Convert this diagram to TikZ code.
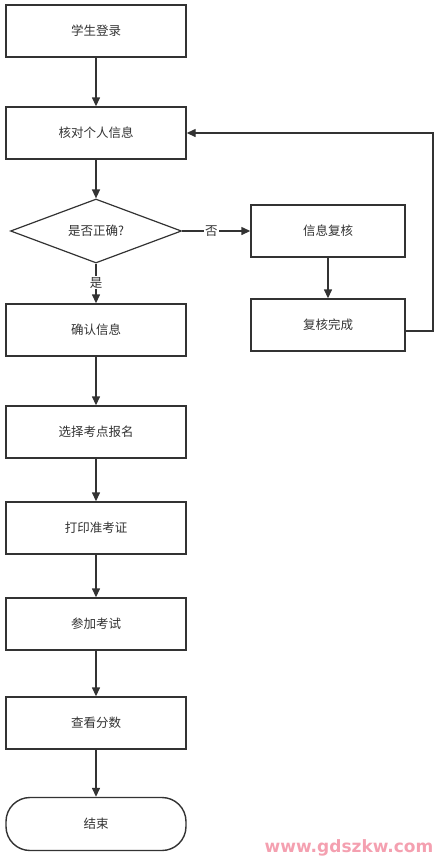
\documentclass[tikz,border=0pt]{standalone}
\usepackage{fontspec}
\newfontfamily\cjk{Noto Sans CJK SC}
\newfontfamily\wm{DejaVu Sans}
\usetikzlibrary{shapes.geometric,arrows.meta}
\definecolor{ln}{HTML}{333333}
\definecolor{tx}{HTML}{333333}
\definecolor{pk}{HTML}{F4A0B0}
\begin{document}
\begin{tikzpicture}[x=1pt,y=-1pt,
  every node/.style={font=\cjk\fontsize{12.5}{14}\selectfont,text=tx},
  box/.style={draw=ln,line width=1.4pt,minimum width=180pt,minimum height=52pt,inner sep=0pt},
  sbox/.style={draw=ln,line width=1.4pt,minimum width=154pt,minimum height=52pt,inner sep=0pt},
  dia/.style={draw=ln,line width=1.2pt,diamond,aspect=2.67,minimum width=171pt,minimum height=64pt,inner sep=0pt},
  term/.style={draw=ln,line width=1.4pt,rounded corners=24pt,minimum width=180pt,minimum height=53pt,inner sep=0pt},
  arr/.style={draw=ln,line width=1.4pt,-{Triangle[length=9pt,width=8pt]}},
  lbl/.style={fill=white,inner sep=1pt}]
\useasboundingbox (0,0) rectangle (439,860);
\node[box] (a) at (96,31) {学生登录};
\node[box] (b) at (96,133) {核对个人信息};
\node[dia] (c) at (96,231) {是否正确?};
\node[sbox] (r1) at (328,231) {信息复核};
\node[sbox] (r2) at (328,325) {复核完成};
\node[box] (d) at (96,330) {确认信息};
\node[box] (e) at (96,432) {选择考点报名};
\node[box] (f) at (96,528) {打印准考证};
\node[box] (g) at (96,624) {参加考试};
\node[box] (h) at (96,723) {查看分数};
\node[term] (i) at (96,824) {结束};
\coordinate (k1) at (433,331);
\coordinate (k2) at (433,133);
\draw[arr] (a) -- (b);
\draw[arr] (b) -- (c);
\draw[arr] (c) -- node[lbl,pos=0.48]{是} (d);
\draw[arr] (c) -- node[lbl,pos=0.43]{否} (r1);
\draw[arr] (r1) -- (r2);
\draw[arr] (r2.east |- k1) -- (k1) -- (k2) -- (b.east);
\draw[arr] (d) -- (e);
\draw[arr] (e) -- (f);
\draw[arr] (f) -- (g);
\draw[arr] (g) -- (h);
\draw[arr] (h) -- (i);
\node[font=\wm\bfseries\fontsize{17}{18}\selectfont,text=pk] (w) at (349,848) {www.gdszkw.com};
\end{tikzpicture}
\end{document}
